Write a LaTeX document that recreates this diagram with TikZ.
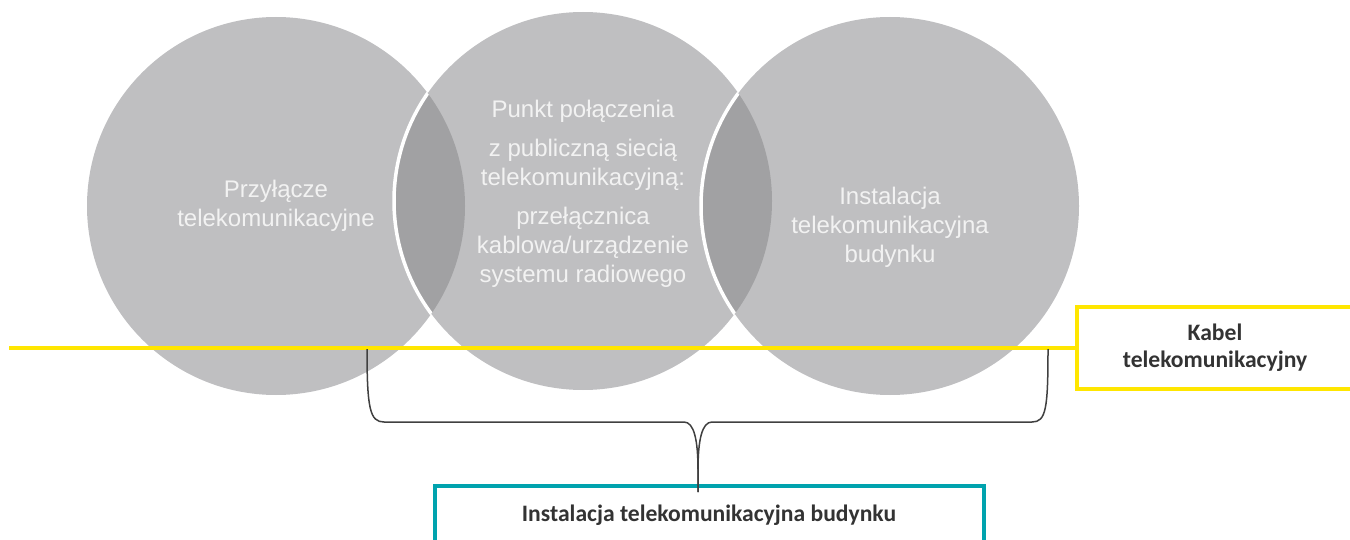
\documentclass[tikz,border=0pt]{standalone}
\usepackage{fontspec}
\setmainfont{Liberation Sans}
\newfontfamily\carlito{Carlito}
\usetikzlibrary{positioning}
\definecolor{circgray}{RGB}{191,191,193}
\definecolor{lensgray}{RGB}{161,161,163}
\definecolor{cableyellow}{RGB}{255,230,0}
\definecolor{boxteal}{RGB}{0,163,174}
\definecolor{textdark}{RGB}{51,51,51}
\begin{document}
\begin{tikzpicture}[x=0.5pt,y=-0.5pt,
    circ/.style={circle,fill=circgray,minimum size=189pt,inner sep=0pt},
    circtext/.style={text=white!95!black,align=center,
      font=\fontsize{12}{14.5}\selectfont},
    labelbox/.style={rectangle,fill=white,line width=2pt,align=center,
      text=textdark,font=\carlito\bfseries\fontsize{11.8}{13.5}\selectfont},
    bracepath/.style={draw=black!75,line width=0.75pt}]
  \useasboundingbox (0,0) rectangle (1350,540);

  \node[circ] (przylacze) at (276,206) {};
  \node[circ] (punkt) at (583,201) {};
  \node[circ] (instalacja) at (890,206) {};

  \begin{scope}
    \clip (przylacze.center) circle (189);
    \fill[lensgray] (punkt.center) circle (189);
    \draw[white,line width=1.75pt] (punkt.center) circle (189);
  \end{scope}
  \begin{scope}
    \clip (punkt.center) circle (189);
    \fill[lensgray] (instalacja.center) circle (189);
    \draw[white,line width=1.75pt] (instalacja.center) circle (189);
  \end{scope}

  \node[circtext] (przylaczetxt) at (276,206)
       {Przyłącze\\telekomunikacyjne};
  \node[circtext] (punkttxt) at (583,194)
       {Punkt połączenia\\[5pt]z publiczną siecią\\telekomunikacyjną:\\[5pt]
        przełącznica\\kablowa/urządzenie\\systemu radiowego};
  \node[circtext] (instalacjatxt) at (890,227)
       {Instalacja\\telekomunikacyjna\\budynku};

  \node[labelbox,draw=cableyellow,minimum width=138pt,minimum height=41pt]
       (kabel) at (1215,348) {Kabel\\telekomunikacyjny};
  \coordinate (cablestart) at (9,348);
  \draw[cableyellow,line width=2pt] (cablestart) -- (kabel.west);

  \node[labelbox,draw=boxteal,minimum width=274.5pt,minimum height=29pt]
       (budynek) at (709,515) {Instalacja telekomunikacyjna budynku};

  \coordinate (braceleft) at (367,349);
  \coordinate (braceright) at (1048,349);
  \coordinate (bracetip) at (698,492);
  \draw[bracepath] (braceleft) .. controls +(0,60) and +(-14,0) .. (384,422)
       -- (684,422) .. controls +(10,0) and +(0,-30) .. (698,470) -- (bracetip);
  \draw[bracepath] (braceright) .. controls +(0,60) and +(14,0) .. (1032,422)
       -- (712,422) .. controls +(-10,0) and +(0,-30) .. (698,470) -- (bracetip);
\end{tikzpicture}
\end{document}
